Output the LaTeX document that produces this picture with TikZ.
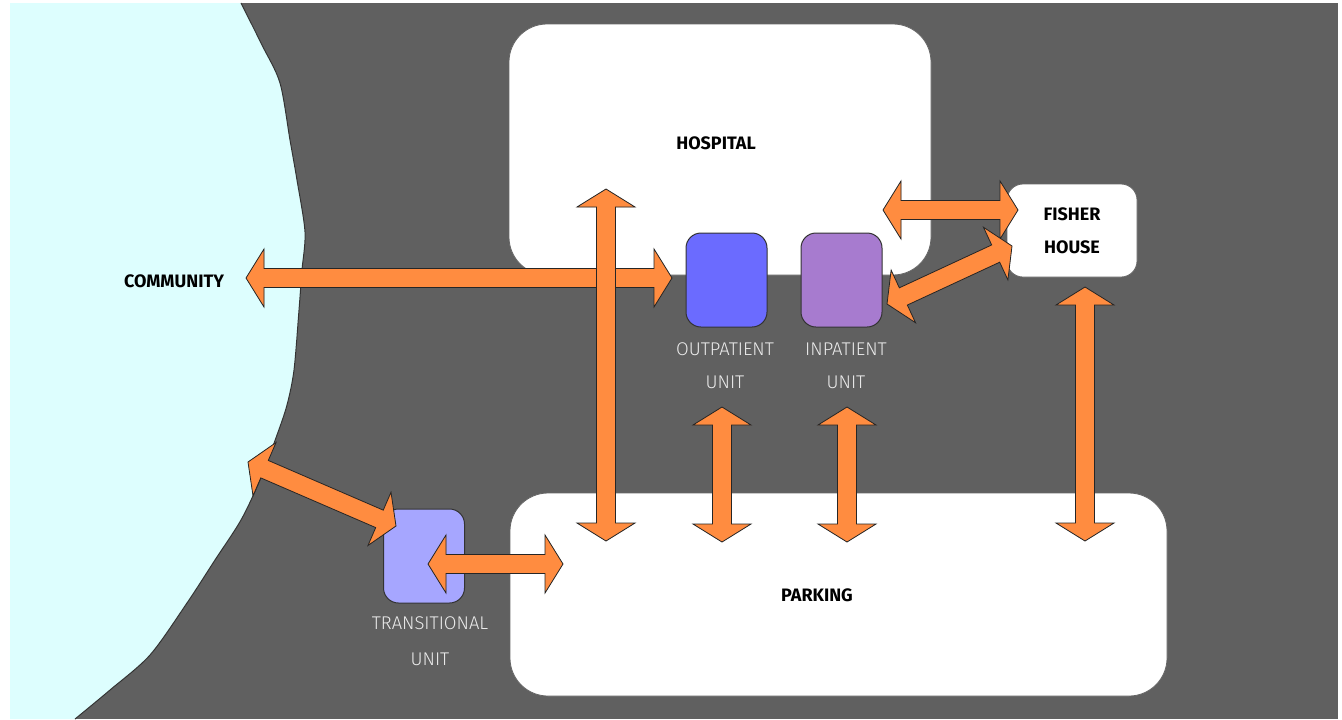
\documentclass[tikz,border=0pt]{standalone}
\usepackage{fontspec}
\setmainfont{Fira Sans}
\newfontfamily\unitfont{Fira Sans Light}
\usetikzlibrary{calc}
\definecolor{bg}{HTML}{606060}
\definecolor{comm}{HTML}{DDFEFE}
\definecolor{orng}{HTML}{FF8C40}
\definecolor{outp}{HTML}{6B6BFF}
\definecolor{inp}{HTML}{A77BCF}
\definecolor{trans}{HTML}{A6A6FF}
\def\AHL{9pt}
\def\AHW{14.5pt}
\def\ASW{4.75pt}
\newcommand\blockarrowpath[3]{%
  \path[#1] let \p1=($(#3)-(#2)$), \n1={atan2(\y1,\x1)} in
    (#2)
    -- ($(#2)+(\n1:\AHL)+(\n1+90:\AHW)$)
    -- ($(#2)+(\n1:\AHL)+(\n1+90:\ASW)$)
    -- ($(#3)+(\n1+180:\AHL)+(\n1+90:\ASW)$)
    -- ($(#3)+(\n1+180:\AHL)+(\n1+90:\AHW)$)
    -- (#3)
    -- ($(#3)+(\n1+180:\AHL)+(\n1-90:\AHW)$)
    -- ($(#3)+(\n1+180:\AHL)+(\n1-90:\ASW)$)
    -- ($(#2)+(\n1:\AHL)+(\n1-90:\ASW)$)
    -- ($(#2)+(\n1:\AHL)+(\n1-90:\AHW)$)
    -- cycle;}
\newcommand\dblarrow[2]{\blockarrowpath{arrowshadow}{#1}{#2}\blockarrowpath{arrowbody}{#1}{#2}}
\tikzset{
  arrowshadow/.style={fill=black, opacity=0.45, shift={(1.2pt,-1.2pt)}},
  arrowbody/.style={fill=orng, draw=black!85, line width=0.4pt, line join=miter},
  bigbox/.style={fill=white, draw=black!60, line width=0.4pt, rounded corners=19pt, inner sep=0pt},
  unitbox/.style={draw=black!80, line width=0.5pt, rounded corners=7.5pt, inner sep=0pt,
     minimum width=40.5pt, minimum height=47pt},
  title/.style={font=\fontsize{9}{16.5}\selectfont\bfseries, text=black, align=center, inner sep=0pt},
  unitlabel/.style={font=\unitfont\fontsize{9.2}{16.5}\selectfont, text=white!92!black, align=center, inner sep=0pt},
}
\begin{document}
\begin{tikzpicture}[x=0.5pt, y=-0.5pt]
\useasboundingbox (0,0) rectangle (1342,719);
\fill[white] (0,0) rectangle (1342,719);
\fill[bg] (10,3) rectangle (1338,719);
% community region
\fill[comm] (10,3) -- plot[smooth, tension=0.5] coordinates {(241,3) (262,45) (280,83) (290,140) (297,180) (305,232) (302,270) (299,310) (294,370) (287,405) (277,435) (260,480) (241,520) (215,560) (187,603) (150,655) (110,690) (75,719)} -- (10,719) -- cycle;
\draw[black!80, line width=0.5pt] plot[smooth, tension=0.5] coordinates {(241,3) (262,45) (280,83) (290,140) (297,180) (305,232) (302,270) (299,310) (294,370) (287,405) (277,435) (260,480) (241,520) (215,560) (187,603) (150,655) (110,690) (75,719)};
% boxes
\node[bigbox, minimum width=211pt, minimum height=125.5pt] (hosp) at (720,149.5) {};
\node[bigbox, minimum width=328.5pt, minimum height=101.5pt] (park) at (838.5,594.5) {};
\node[bigbox, rounded corners=8pt, minimum width=65pt, minimum height=46.5pt, title] (fisher) at (1072,230.5) {FISHER\\HOUSE};
\node[unitbox, fill=outp] (outp) at (726.5,280) {};
\node[unitbox, fill=inp] (inp) at (841.5,280) {};
\node[unitbox, fill=trans] (trans) at (424,556) {};
% labels
\node[title] (hospl) at (716,143) {HOSPITAL};
\node[title] (parkl) at (817,595) {PARKING};
\node[title] (comml) at (174,281) {COMMUNITY};
\node[unitlabel] (outpl) at (725,366) {OUTPATIENT\\UNIT};
\node[unitlabel] (inpl) at (846,366) {INPATIENT\\UNIT};
\node[unitlabel, font=\unitfont\fontsize{9.2}{18}\selectfont] (transl) at (430,641) {TRANSITIONAL\\UNIT};
% arrow end points
\coordinate (c1) at (246,278);  \coordinate (o1) at (672,278);
\coordinate (h2) at (606,189);  \coordinate (p2) at (606,541);
\coordinate (h3) at (883,210);  \coordinate (f3) at (1018,210);
\coordinate (i4) at (887,304);  \coordinate (f4) at (1012,246);
\coordinate (f5) at (1085,287); \coordinate (p5) at (1085,541);
\coordinate (o6) at (722,407);  \coordinate (p6) at (722,542);
\coordinate (i7) at (847,407);  \coordinate (p7) at (847,542);
\coordinate (c8) at (248,462);  \coordinate (t8) at (396,526);
\coordinate (t9) at (428,564);  \coordinate (p9) at (563,564);
% arrows
\dblarrow{c1}{o1}
\dblarrow{h2}{p2}
\dblarrow{h3}{f3}
\dblarrow{i4}{f4}
\dblarrow{f5}{p5}
\dblarrow{o6}{p6}
\dblarrow{i7}{p7}
\dblarrow{c8}{t8}
\dblarrow{t9}{p9}
\end{tikzpicture}
\end{document}
